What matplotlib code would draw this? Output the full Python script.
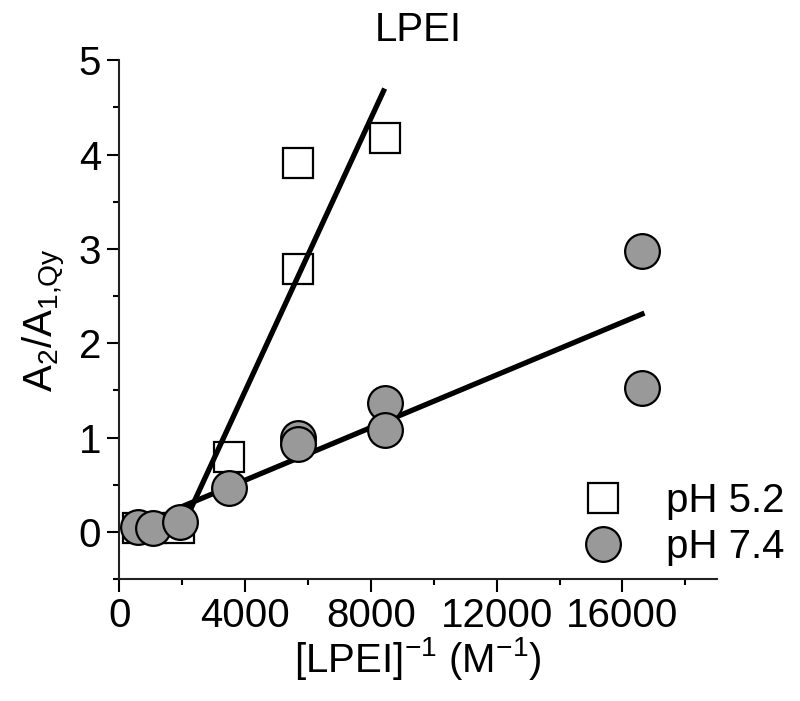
import matplotlib
matplotlib.use("Agg")
import matplotlib.pyplot as plt

plt.rcParams["font.family"] = ["Liberation Sans", "DejaVu Sans"]
plt.rcParams["mathtext.fontset"] = "custom"
plt.rcParams["mathtext.rm"] = "Liberation Sans"
plt.rcParams["mathtext.it"] = "Liberation Sans:italic"

# pH 5.2 (open squares)
x_52 = [600, 1000, 1900, 3490, 5680, 5680, 8440]
y_52 = [0.04, 0.04, 0.04, 0.79, 3.91, 2.79, 4.18]

# pH 7.4 (grey circles)
x_74 = [600, 1080, 1940, 3490, 5700, 5700, 8440, 8440, 16630, 16630]
y_74 = [0.05, 0.04, 0.10, 0.47, 1.00, 0.93, 1.37, 1.08, 2.98, 1.53]

# linear fits (end points)
fit_52_x = [1870, 8440]
fit_52_y = [-0.05, 4.70]
fit_74_x = [1870, 16700]
fit_74_y = [0.25, 2.32]

fs = 29

fig = plt.figure(figsize=(8.0, 7.01), dpi=100)
ax = fig.add_axes([0.149, 0.174, 0.747, 0.740])

ax.plot(fit_52_x, fit_52_y, color="black", lw=3.8, solid_capstyle="butt", zorder=3)
ax.plot(fit_74_x, fit_74_y, color="black", lw=3.8, solid_capstyle="butt", zorder=3)

ax.plot(x_52, y_52, "s", ms=21, mfc="white", mec="black", mew=1.6,
        ls="none", label="pH 5.2", zorder=2)
ax.plot(x_74, y_74, "o", ms=25, mfc="#999999", mec="black", mew=1.6,
        ls="none", label="pH 7.4", zorder=4)

ax.set_xlim(0, 19000)
ax.set_ylim(-0.5, 5)
ax.set_xticks([0, 4000, 8000, 12000, 16000])
ax.set_xticks(range(2000, 19000, 4000), minor=True)
ax.set_yticks([0, 1, 2, 3, 4, 5])
ax.set_yticks([-0.5, 0.5, 1.5, 2.5, 3.5, 4.5], minor=True)

for s in ["top", "right"]:
    ax.spines[s].set_visible(False)
for s in ["left", "bottom"]:
    ax.spines[s].set_linewidth(1.5)
    ax.spines[s].set_color("#222222")

ax.tick_params(which="major", direction="out", length=9, width=1.5,
               labelsize=fs, pad=4)
ax.tick_params(which="minor", direction="out", length=4.5, width=1.5)

ax.set_title("LPEI", fontsize=fs, pad=14)
ax.set_xlabel(r"[LPEI]$^{\mathregular{-1}}$ (M$^{\mathregular{-1}}$)",
              fontsize=fs, labelpad=0)
ax.set_ylabel(r"A$_{\mathregular{2}}$/A$_{\mathregular{1{,}Qy}}$",
              fontsize=fs, labelpad=8)

ax.legend(loc="lower right", bbox_to_anchor=(1.16, -0.03), frameon=False,
          fontsize=fs, handletextpad=0.55, labelspacing=0.2,
          markerscale=1.0, borderpad=0.2)

fig.savefig("out.png", dpi=100)
